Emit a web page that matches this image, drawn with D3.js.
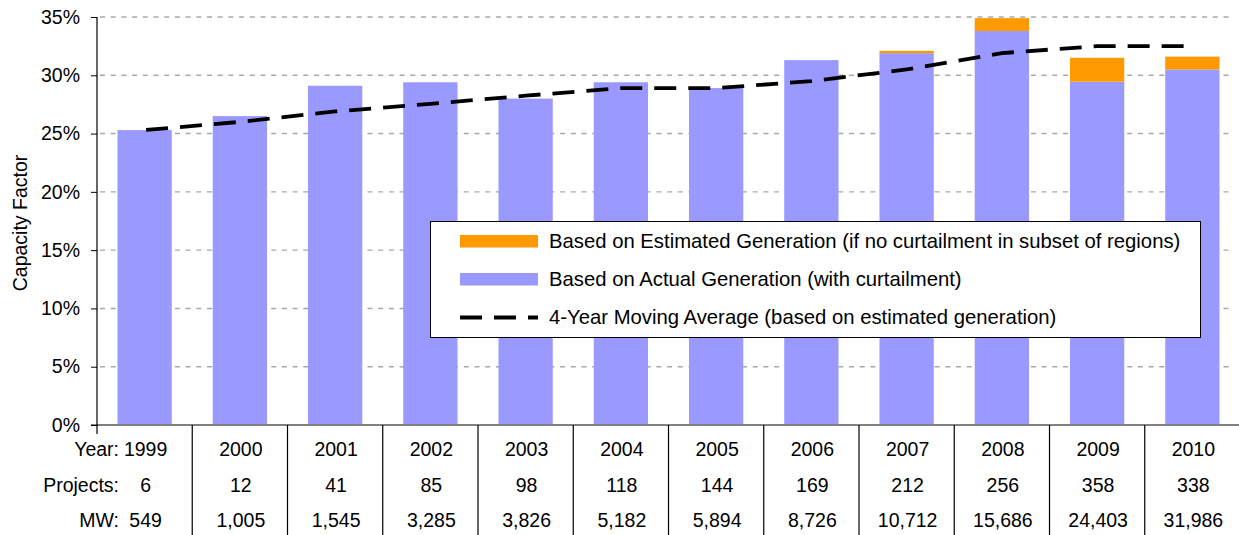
<!DOCTYPE html>
<html>
<head>
<meta charset="utf-8">
<script src="https://cdn.jsdelivr.net/npm/d3@7"></script>
<style>
  html, body { margin: 0; padding: 0; background: #fff; }
  svg { display: block; font-family: "Liberation Sans", Arial, sans-serif; }
</style>
</head>
<body>
<svg id="chart" width="1239" height="535"></svg>
<script>
// Wind project capacity factors by commercial operation year
const years = ["1999","2000","2001","2002","2003","2004","2005","2006","2007","2008","2009","2010"];
const actualCF = [25.3, 26.5, 29.1, 29.4, 28.0, 29.4, 28.9, 31.3, 31.9, 33.8, 29.45, 30.5];
const estimatedCF = [25.3, 26.5, 29.1, 29.4, 28.0, 29.4, 28.9, 31.3, 32.1, 34.9, 31.5, 31.6];
const movingAvgCF = [25.3, 26.0, 26.9, 27.55, 28.25, 28.9, 28.9, 29.5, 30.5, 31.9, 32.5, 32.5];
const projects = [6, 12, 41, 85, 98, 118, 144, 169, 212, 256, 358, 338];
const megawatts = [549, 1005, 1545, 3285, 3826, 5182, 5894, 8726, 10712, 15686, 24403, 31986];
const yTicks = [0, 5, 10, 15, 20, 25, 30, 35];
const legendLabels = [
  "Based on Estimated Generation (if no curtailment in subset of regions)",
  "Based on Actual Generation (with curtailment)",
  "4-Year Moving Average (based on estimated generation)"
];

const BLUE = "#9999ff", ORANGE = "#ff9900";
const svg = d3.select("#chart");

const x = d3.scaleBand().domain(years).range([97, 1240]).padding(0);
const y = d3.scaleLinear().domain([0, 35]).range([425, 17]);
const cx = d => x(d) + x.bandwidth() / 2;
const barW = x.bandwidth() * 0.57;

// dashed horizontal gridlines
svg.append("g").selectAll("line")
  .data(yTicks.filter(t => t > 0))
  .join("line")
  .attr("x1", 100).attr("x2", 1233)
  .attr("y1", d => y(d)).attr("y2", d => y(d))
  .attr("stroke", "#a8a8a8").attr("stroke-width", 1.4)
  .attr("stroke-dasharray", "5,5.7");

// bars: actual generation, plus the estimated increment on top
const bars = svg.append("g");
bars.selectAll("rect.actual")
  .data(years)
  .join("rect")
  .attr("class", "actual")
  .attr("x", d => cx(d) - barW / 2)
  .attr("width", barW)
  .attr("y", (d, i) => y(actualCF[i]))
  .attr("height", (d, i) => y(0) - y(actualCF[i]))
  .attr("fill", BLUE);
bars.selectAll("rect.est")
  .data(years.filter((d, i) => estimatedCF[i] > actualCF[i]))
  .join("rect")
  .attr("class", "est")
  .attr("x", d => cx(d) - barW / 2)
  .attr("width", barW)
  .attr("y", d => y(estimatedCF[years.indexOf(d)]))
  .attr("height", d => { const i = years.indexOf(d); return y(actualCF[i]) - y(estimatedCF[i]); })
  .attr("fill", ORANGE);

// category baseline
svg.append("line")
  .attr("x1", 91).attr("x2", 1239)
  .attr("y1", y(0)).attr("y2", y(0))
  .attr("stroke", "#808080").attr("stroke-width", 2);

// left axis
const yAxis = d3.axisLeft(y)
  .tickValues(yTicks)
  .tickFormat(d => d + "%")
  .tickSize(6)
  .tickSizeOuter(0)
  .tickPadding(11);
const gY = svg.append("g").attr("transform", "translate(97,0)").call(yAxis);
gY.select(".domain").remove();
gY.selectAll(".tick line").attr("stroke", "#000").attr("stroke-width", 1);
gY.selectAll(".tick text")
  .attr("font-size", 19.5).attr("fill", "#000")
  .attr("font-family", "Liberation Sans, Arial, sans-serif");
svg.append("line")
  .attr("x1", 97).attr("x2", 97)
  .attr("y1", y(35)).attr("y2", 434)
  .attr("stroke", "#000").attr("stroke-width", 1.2);

// axis title
svg.append("text")
  .attr("transform", "translate(27,223) rotate(-90)")
  .attr("text-anchor", "middle")
  .attr("font-size", 19.5)
  .text("Capacity Factor");

// moving average line
const line = d3.line().x((d, i) => cx(years[i])).y(d => y(d));
svg.append("path")
  .datum(movingAvgCF)
  .attr("d", line)
  .attr("fill", "none")
  .attr("stroke", "#000").attr("stroke-width", 3.8)
  .attr("stroke-dasharray", "22,12")
  .attr("stroke-dashoffset", -1.5);

// data table below the axis
const table = svg.append("g");
table.selectAll("line")
  .data(years.slice(1))
  .join("line")
  .attr("x1", d => x(d)).attr("x2", d => x(d))
  .attr("y1", y(0)).attr("y2", 535)
  .attr("stroke", "#000").attr("stroke-width", 1.2);

const rows = [
  { label: "Year:", values: years, yPos: 456 },
  { label: "Projects:", values: projects.map(String), yPos: 491.5 },
  { label: "MW:", values: megawatts.map(d3.format(",")), yPos: 526.5 }
];
rows.forEach(r => {
  table.append("text")
    .attr("x", 119).attr("y", r.yPos)
    .attr("text-anchor", "end").attr("font-size", 19.5)
    .text(r.label);
  table.selectAll(null)
    .data(r.values)
    .join("text")
    .attr("x", (d, i) => cx(years[i]) + 1)
    .attr("y", r.yPos)
    .attr("text-anchor", "middle").attr("font-size", 19.5)
    .text(d => d);
});

// legend
const lg = svg.append("g");
lg.append("rect")
  .attr("x", 430.5).attr("y", 221.5).attr("width", 770).attr("height", 116)
  .attr("fill", "#fff").attr("stroke", "#000").attr("stroke-width", 1);
lg.append("rect").attr("x", 460).attr("y", 235).attr("width", 78).attr("height", 12.5).attr("fill", ORANGE);
lg.append("rect").attr("x", 460).attr("y", 273).attr("width", 78).attr("height", 12.5).attr("fill", BLUE);
lg.append("line")
  .attr("x1", 460).attr("x2", 538).attr("y1", 317.5).attr("y2", 317.5)
  .attr("stroke", "#000").attr("stroke-width", 3.8)
  .attr("stroke-dasharray", "22,12");
lg.selectAll("text")
  .data(legendLabels)
  .join("text")
  .attr("x", 549)
  .attr("y", (d, i) => [248, 285.5, 323.5][i])
  .attr("font-size", 20.3)
  .text(d => d);
</script>
</body>
</html>
